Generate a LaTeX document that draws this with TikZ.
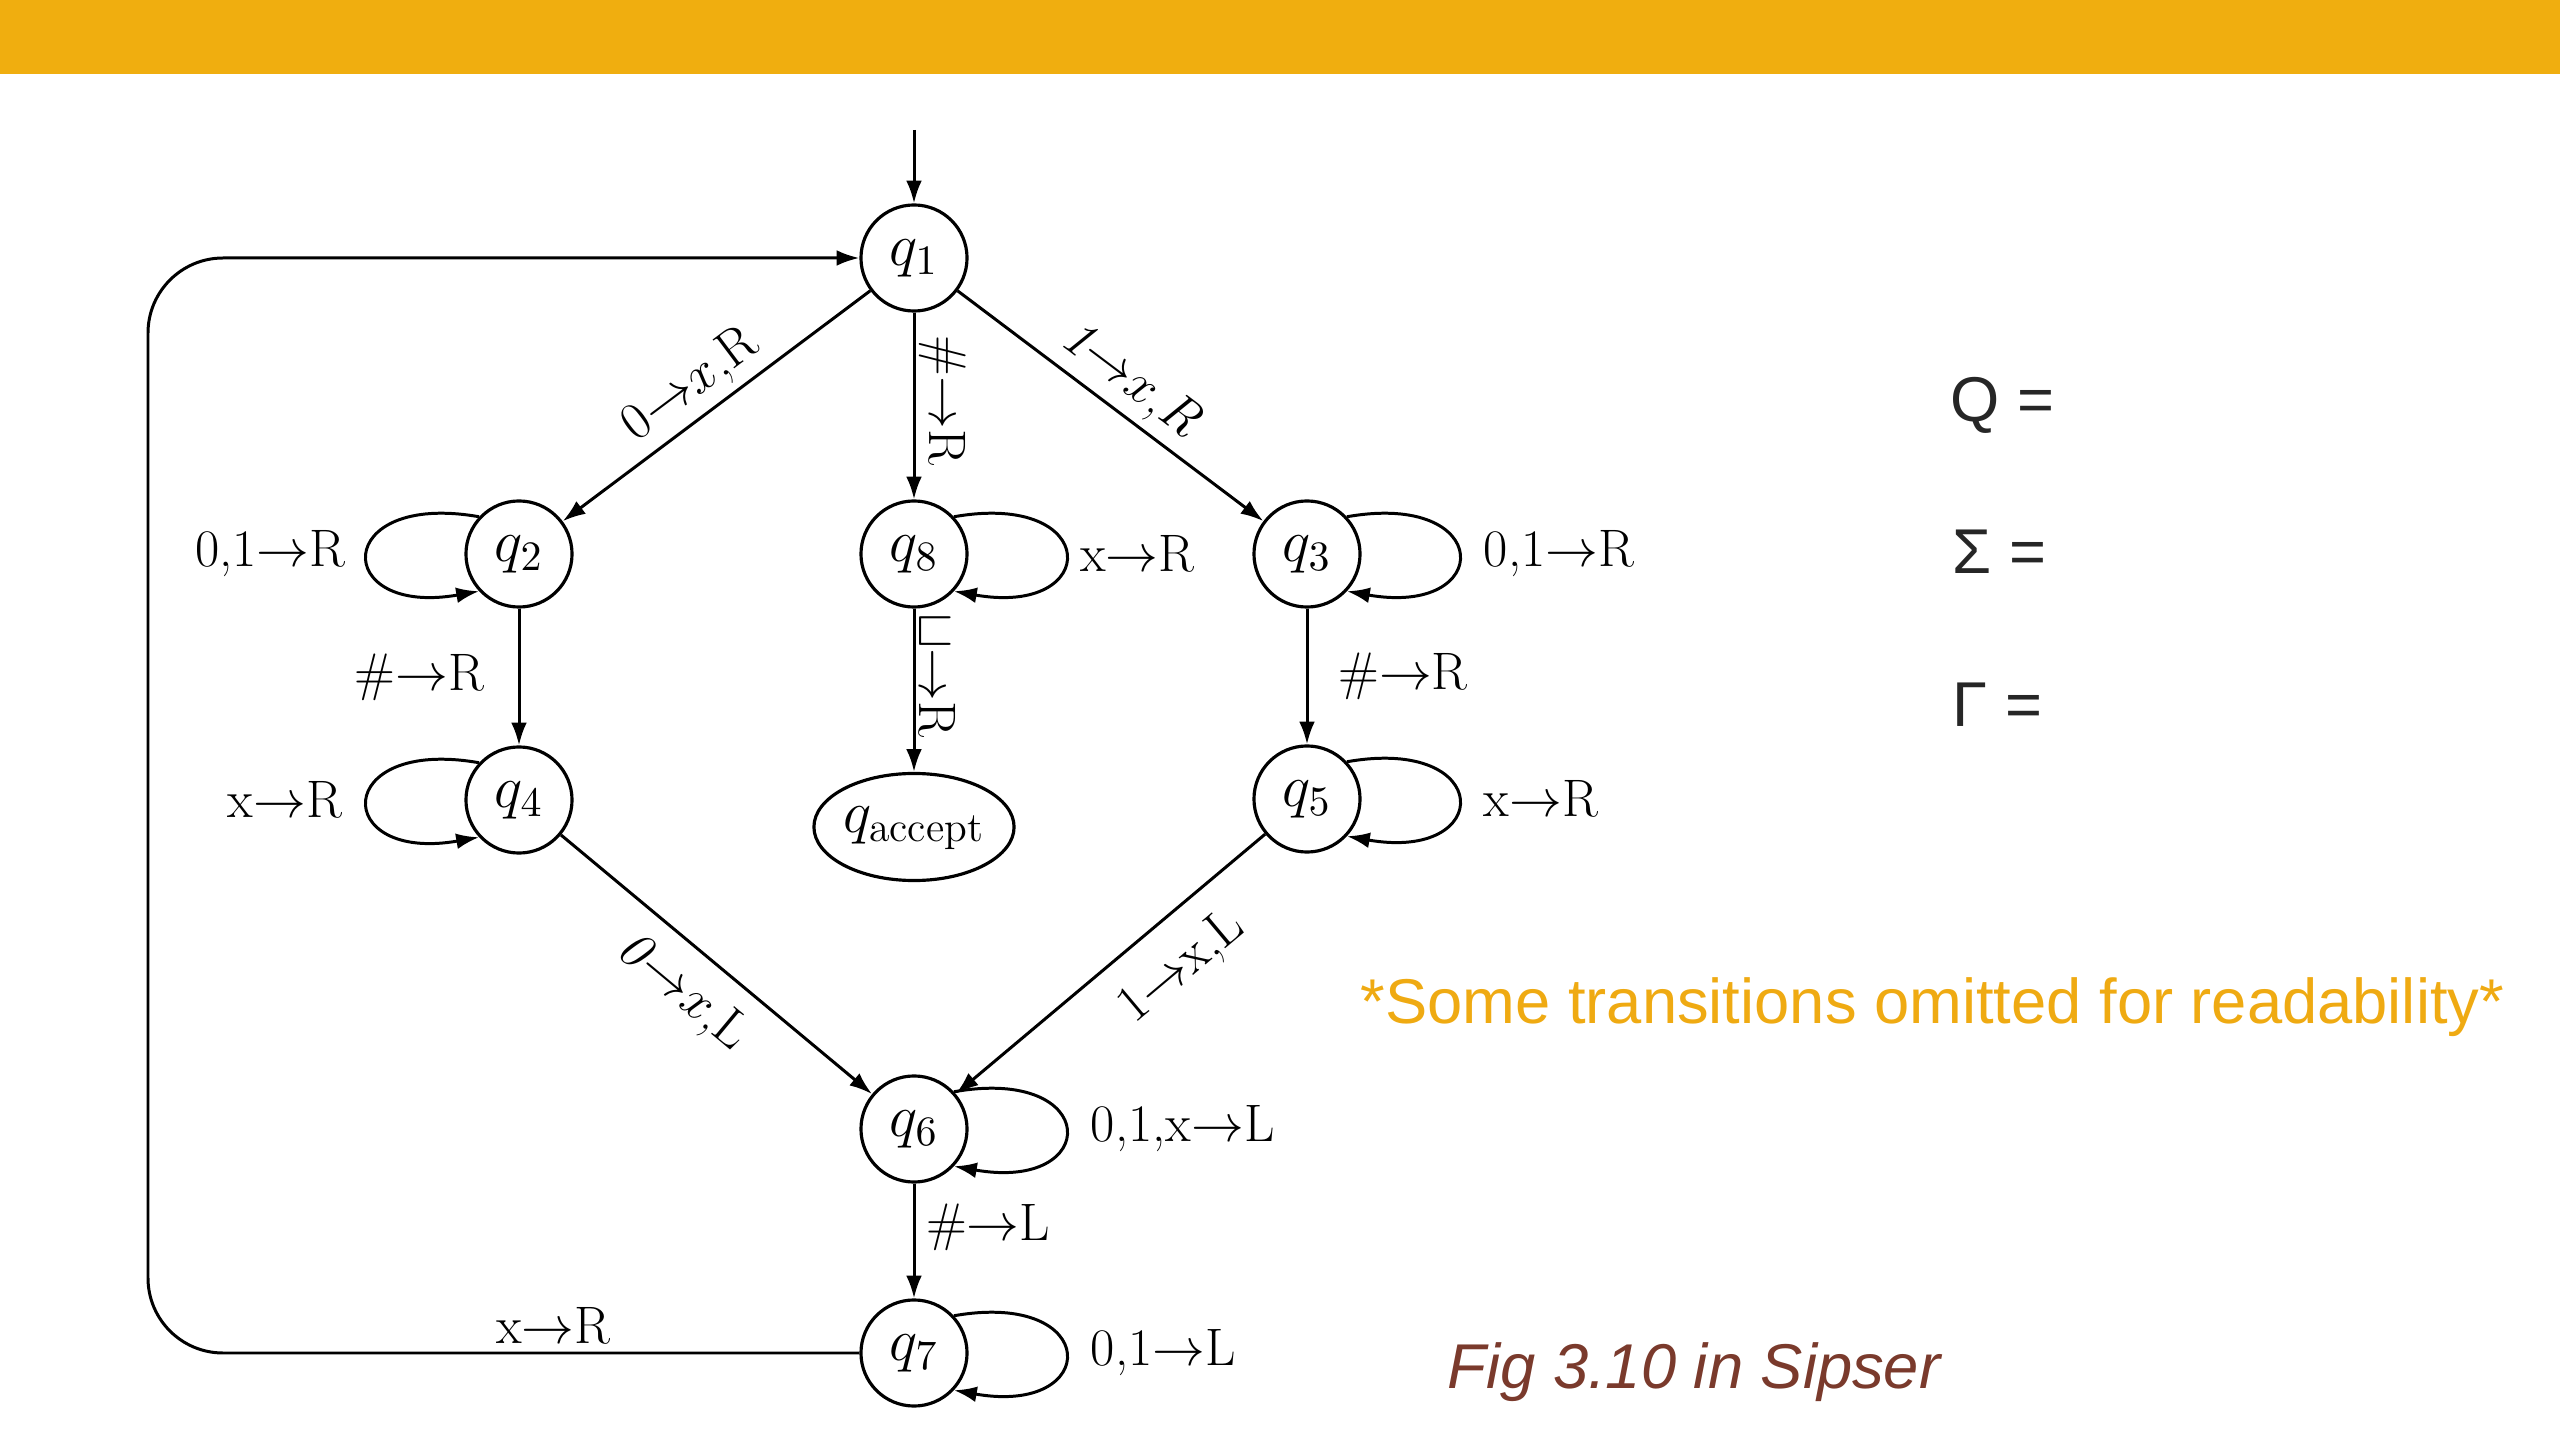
\documentclass[tikz,border=0pt]{standalone}
\usepackage{fix-cm}
\usepackage{fontspec}
\newfontfamily\sansf{Liberation Sans}
\usetikzlibrary{arrows.meta,shapes.geometric}
\definecolor{barorange}{HTML}{F0AE0F}
\definecolor{txtorange}{HTML}{EFAA12}
\definecolor{figbrown}{HTML}{7A3A2C}
\definecolor{darktext}{HTML}{262626}
\begin{document}
\begin{tikzpicture}[x=0.01cm,y=-0.01cm,
  state/.style={circle,draw,line width=0.9pt,minimum size=1.06cm,inner sep=0pt,font=\fontsize{17}{20}\selectfont},
  accstate/.style={ellipse,draw,line width=0.9pt,minimum width=1.96cm,minimum height=1.07cm,inner sep=0pt,text height=0.62em,text depth=0.32em,font=\fontsize{17}{20}\selectfont},
  tr/.style={-{Latex[length=6.5pt,width=4.5pt]},line width=0.85pt},
  lbl/.style={font=\fontsize{15}{18}\selectfont,inner sep=2pt},
  vlbl/.style={lbl,rotate=-90,anchor=south,inner sep=1pt},
  side/.style={font=\sansf\fontsize{18}{22}\selectfont,anchor=base west,inner sep=0pt},
  loopL/.style={out=170,in=190,distance=1.5cm},
  loopR/.style={out=10,in=-10,distance=1.5cm},
]
\useasboundingbox (0,0) rectangle (2560,1440);
\fill[barorange] (0,0) rectangle (2560,74);

\node[state] (q1) at (914,258) {$q_1$};
\node[state] (q2) at (519,554) {$q_2$};
\node[state] (q8) at (914,554) {$q_8$};
\node[state] (q3) at (1307,554) {$q_3$};
\node[state] (q4) at (519,800) {$q_4$};
\node[accstate] (qa) at (914,827) {$q_{\mathrm{accept}}$};
\node[state] (q5) at (1307,799) {$q_5$};
\node[state] (q6) at (914,1129) {$q_6$};
\node[state] (q7) at (914,1353) {$q_7$};
\coordinate (start) at (914,130);
\coordinate (lc) at (148,800);

\draw[tr] (start) -- (q1);
\draw[tr] (q1) -- node[lbl,sloped,above,pos=0.52]{0$\rightarrow$$x$,R} (q2);
\draw[tr] (q1) -- node[vlbl,pos=0.47]{\#$\rightarrow$R} (q8);
\draw[tr] (q1) -- node[lbl,sloped,above]{\textit{1}$\rightarrow$$x$,\textit{R}} (q3);
\draw[tr] (q2.137) to[loopL] node[lbl,left=4pt]{0,1$\rightarrow$R} (q2.223);
\draw[tr] (q8.43) to[loopR] node[lbl,right=2pt]{x$\rightarrow$R} (q8.-43);
\draw[tr] (q3.43) to[loopR] node[lbl,right=5pt]{0,1$\rightarrow$R} (q3.-43);
\draw[tr] (q2) -- node[lbl,left=7.5pt]{\#$\rightarrow$R} (q4);
\draw[tr] (q3) -- node[lbl,right=6.5pt]{\#$\rightarrow$R} (q5);
\draw[tr] (q8) -- node[vlbl,pos=0.41]{$\sqcup$$\rightarrow$R} (qa);
\draw[tr] (q4.137) to[loopL] node[lbl,left=5pt]{x$\rightarrow$R} (q4.223);
\draw[tr] (q5.43) to[loopR] node[lbl,right=5pt]{x$\rightarrow$R} (q5.-43);
\draw[tr] (q4) -- node[lbl,sloped,below=3.5pt,pos=0.48]{\textit{0}$\rightarrow$$x$,L} (q6);
\draw[tr] (q5) -- node[lbl,sloped,below=5pt,pos=0.37]{1$\rightarrow$x,L} (q6);
\draw[tr] (q6.43) to[loopR] node[lbl,right=5pt]{0,1,x$\rightarrow$L} (q6.-43);
\draw[tr] (q6) -- node[lbl,right=1pt,pos=0.38]{\#$\rightarrow$L} (q7);
\draw[tr] (q7.43) to[loopR] node[lbl,right=5pt]{0,1$\rightarrow$L} (q7.-43);
\draw[tr,rounded corners=0.75cm] (q7.west) -| node[lbl,pos=0.215,above]{x$\rightarrow$R} (lc) |- (q1.west);

\node[side,text=darktext] (tQ) at (1950,422) {Q =};
\node[side,text=darktext] (tS) at (1952,574) {Σ =};
\node[side,text=darktext] (tG) at (1952,727) {Γ =};
\node[side,text=txtorange] (tnote) at (1360,1023) {*Some transitions omitted for readability*};
\node[side,text=figbrown,font=\sansf\itshape\fontsize{18}{22}\selectfont] (tfig) at (1447,1388) {Fig 3.10 in Sipser};
\end{tikzpicture}
\end{document}
